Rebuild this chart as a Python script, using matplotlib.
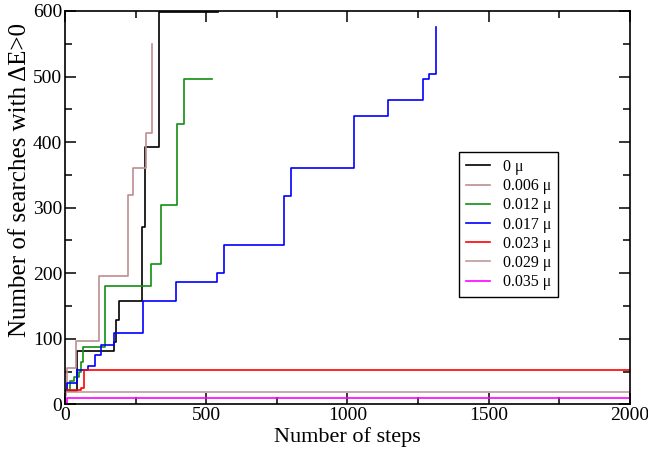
import matplotlib
matplotlib.use("Agg")
import matplotlib.pyplot as plt

plt.rcParams['font.family'] = ['Liberation Serif', 'DejaVu Serif']
plt.rcParams['mathtext.fontset'] = 'stix'

# steps at which the count jumps, and the count after the jump
x0 = [0, 44, 174, 180, 190, 272, 284, 333, 540]
y0 = [20, 82, 95, 128, 157, 271, 392, 598, 598]

x006 = [0, 7, 40, 121, 222, 239, 288, 308]
y006 = [20, 55, 96, 196, 319, 361, 414, 550]

x012 = [0, 19, 31, 48, 57, 64, 143, 306, 341, 395, 422, 520]
y012 = [22, 35, 42, 50, 65, 88, 181, 214, 304, 427, 496, 496]

x017 = [0, 7, 42, 80, 107, 127, 172, 275, 393, 538, 564, 775, 800, 1024, 1145, 1268, 1288, 1314]
y017 = [20, 32, 52, 59, 75, 90, 108, 158, 187, 200, 243, 317, 361, 440, 464, 497, 504, 575]

x023 = [0, 57, 66, 2000]
y023 = [22, 25, 53, 53]

x029 = [0, 5, 2000]
y029 = [12, 19, 19]

x035 = [0, 7, 2000]
y035 = [2, 9, 9]

labels = ["0 \u03bc", "0.006 \u03bc", "0.012 \u03bc", "0.017 \u03bc", "0.023 \u03bc", "0.029 \u03bc", "0.035 \u03bc"]
colors = ["black", "#bc8f8f", "#109010", "#0000ff", "#ff0000", "#c09a9a", "#ff00ff"]
series = [(x0, y0), (x006, y006), (x012, y012), (x017, y017), (x023, y023), (x029, y029), (x035, y035)]

fig = plt.figure(figsize=(6.48, 4.54), dpi=100)
ax = fig.add_axes([0.1003, 0.1095, 0.8719, 0.8663])

for (xs, ys), c, lab in zip(series, colors, labels):
    ax.step(xs, ys, where='post', color=c, lw=1.2, label=lab)

ax.set_xlim(0, 2000)
ax.set_ylim(0, 600)
ax.xaxis.set_major_locator(plt.MultipleLocator(500))
ax.xaxis.set_minor_locator(plt.MultipleLocator(250))
ax.yaxis.set_major_locator(plt.MultipleLocator(100))
ax.yaxis.set_minor_locator(plt.MultipleLocator(50))
ax.tick_params(which='both', direction='in', top=True, right=True, labelsize=14, width=1.1)
ax.tick_params(which='major', length=8, pad=2)
ax.tick_params(which='minor', length=5)
for s in ax.spines.values():
    s.set_linewidth(1.2)

ax.set_xlabel("Number of steps", fontsize=16, labelpad=2)
ax.set_ylabel("Number of searches with \u0394E>0", fontsize=18)
ax.yaxis.set_label_coords(-0.06, 0.57)

leg = ax.legend(loc='upper left', bbox_to_anchor=(0.697, 0.642), borderaxespad=0,
                fontsize=11.5, fancybox=False, framealpha=1, edgecolor='black',
                handlelength=1.5, handletextpad=0.8, labelspacing=0.2, borderpad=0.45)
leg.get_frame().set_linewidth(1.0)

fig.savefig("out.png", dpi=100)
